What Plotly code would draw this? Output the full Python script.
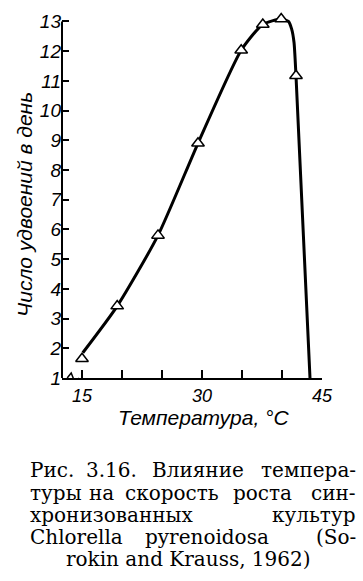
import plotly.graph_objects as go

# measured points (triangles)
temp = [15, 19.4, 24.5, 29.5, 34.9, 37.6, 39.9, 41.75]
rate = [1.65, 3.42, 5.8, 8.9, 12.03, 12.9, 13.08, 11.17]

# fitted curve as traced on the picture
curve_t = [15.1, 19.4, 24.5, 29.5, 34.9, 37.6, 39.9, 40.8, 41.2, 41.5, 41.75, 43.5]
curve_r = [1.85, 3.42, 5.8, 8.9, 12.03, 12.9, 13.08, 13.0, 12.75, 12.3, 11.17, 1.0]

x_ticks = [15, 30, 45]
y_ticks = list(range(1, 14))

# caption words: (text, anchor, x position in px), one list per line
caption = [
    [("Рис.", "left", 28), ("3.16.", "center", 111), ("Влияние", "center", 198), ("темпера-", "right", 358)],
    [("туры", "left", 28), ("на", "center", 101), ("скорость", "center", 172), ("роста", "center", 262), ("син-", "right", 358)],
    [("хронизованных", "left", 28), ("культур", "right", 358)],
    [("Chlorella", "left", 28), ("pyrenoidosa", "center", 207), ("(So-", "right", 358)],
    [("rokin and Krauss, 1962)", "center", 188)],
]
caption_y = [472, 494.5, 517, 539.5, 562]

W, H = 363, 581
L, R, T, B = 62, 41, 11, 203
pw, ph = W - L - R, H - T - B
Y0, Y1 = 1, 13.15

def px(x):
    return (x - L) / pw

def py(y):
    return (H - B - y) / ph

sans = "Liberation Sans, Arial, sans-serif"
serif = "DejaVu Serif, serif"

fig = go.Figure()
fig.add_trace(go.Scatter(
    x=curve_t, y=curve_r, mode="lines",
    line=dict(color="black", width=3, shape="spline", smoothing=0.6),
    cliponaxis=False, hoverinfo="skip", showlegend=False))
fig.add_trace(go.Scatter(
    x=temp, y=rate, mode="markers",
    marker=dict(symbol="triangle-up", size=11, color="white",
                line=dict(color="black", width=1.5)),
    cliponaxis=False, showlegend=False))

fig.update_xaxes(
    range=[12.5, 45], tickvals=x_ticks, ticktext=[str(v) for v in x_ticks],
    ticks="inside", ticklen=8, tickwidth=1.5, tickcolor="black",
    minor=dict(tickvals=[20, 25, 35, 40], ticks="inside", ticklen=8,
               tickwidth=1.5, tickcolor="black"),
    showline=True, linecolor="black", linewidth=2, showgrid=False,
    zeroline=False, mirror=False,
    tickfont=dict(family=sans, size=18, color="black", style="italic"))
fig.update_yaxes(
    range=[Y0, Y1], tickvals=y_ticks, ticktext=[str(v) for v in y_ticks],
    ticks="inside", ticklen=7, tickwidth=1.5, tickcolor="black",
    showline=False, showgrid=False, zeroline=False,
    tickfont=dict(family=sans, size=19, color="black", style="italic"))

ann = []
ann.append(dict(text="Число удвоений в день", xref="paper", yref="paper",
                x=px(25), y=py(202), textangle=-90, showarrow=False,
                xanchor="center", yanchor="middle",
                font=dict(family=sans, size=21, color="black", style="italic")))
ann.append(dict(text="Температура, °С", xref="paper", yref="paper",
                x=px(204), y=py(418), showarrow=False,
                xanchor="center", yanchor="middle",
                font=dict(family=sans, size=21, color="black", style="italic")))
for words, yy in zip(caption, caption_y):
    for text, anchor, xx in words:
        ann.append(dict(text=text, xref="paper", yref="paper", x=px(xx), y=py(yy),
                        showarrow=False, xanchor=anchor, yanchor="middle",
                        font=dict(family=serif, size=20, color="black")))

shapes = [
    # y axis line from the bottom to the top tick (13)
    dict(type="line", xref="paper", yref="y", x0=0, x1=0, y0=Y0, y1=y_ticks[-1],
         line=dict(color="black", width=2)),
    dict(type="rect", xref="x", yref="y", xsizemode="pixel", ysizemode="pixel",
         xanchor=13.9, yanchor=1, x0=-5, x1=5, y0=-2, y1=2,
         fillcolor="white", line=dict(width=0)),
    dict(type="path", xref="x", yref="y", xsizemode="pixel", ysizemode="pixel",
         xanchor=13.9, yanchor=1, path="M -6,0 L -2,5 L 2,-5 L 6,0",
         line=dict(color="black", width=1.5)),
]

fig.update_layout(
    width=W, height=H, margin=dict(l=L, r=R, t=T, b=B, pad=0),
    paper_bgcolor="white", plot_bgcolor="white",
    annotations=ann, shapes=shapes, showlegend=False)

fig.write_html("out.html", config={"displayModeBar": False},
               post_script="document.body.style.margin='0';document.body.style.overflow='hidden';")
